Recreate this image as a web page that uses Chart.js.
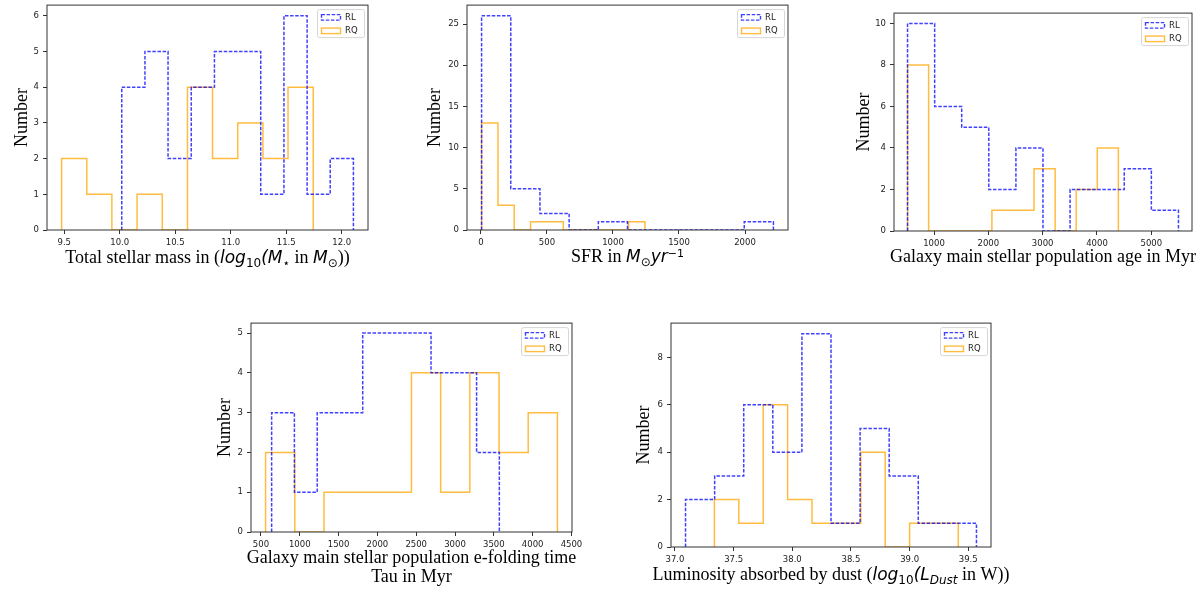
<!DOCTYPE html>
<html>
<head>
<meta charset="utf-8">
<script src="https://cdn.jsdelivr.net/npm/chart.js@4.4.1/dist/chart.umd.min.js"></script>
<style>
html, body { margin: 0; padding: 0; background: #fff; overflow: hidden; width: 1200px; height: 601px; }
.panel { position: absolute; }
</style>
</head>
<body>
<div class="panel" id="p1"><canvas id="c1"></canvas></div>
<div class="panel" id="p2"><canvas id="c2"></canvas></div>
<div class="panel" id="p3"><canvas id="c3"></canvas></div>
<div class="panel" id="p4"><canvas id="c4"></canvas></div>
<div class="panel" id="p5"><canvas id="c5"></canvas></div>
<script>
// total stellar mass
const massEdgesRL = [10.018, 10.227, 10.435, 10.644, 10.853, 11.062, 11.270, 11.479, 11.688, 11.896, 12.105];
const massCountsRL = [4, 5, 2, 4, 5, 5, 1, 6, 1, 2];
const massEdgesRQ = [9.476, 9.703, 9.929, 10.156, 10.383, 10.610, 10.836, 11.063, 11.290, 11.516, 11.743];
const massCountsRQ = [2, 1, 0, 1, 0, 4, 2, 3, 2, 4];
const massTicksX = [9.5, 10.0, 10.5, 11.0, 11.5, 12.0];
const massTicksY = [0, 1, 2, 3, 4, 5, 6];

// SFR
const sfrEdgesRL = [5, 226, 447, 668, 889, 1110, 1331, 1552, 1773, 1994, 2215];
const sfrCountsRL = [26, 5, 2, 0, 1, 0, 0, 0, 0, 1];
const sfrEdgesRQ = [5, 129, 252, 376, 500, 624, 747, 871, 995, 1118, 1242];
const sfrCountsRQ = [13, 3, 0, 1, 1, 0, 0, 0, 0, 1];
const sfrTicksX = [0, 500, 1000, 1500, 2000];
const sfrTicksY = [0, 5, 10, 15, 20, 25];

// stellar population age
const ageEdgesRL = [513, 1012, 1510, 2009, 2508, 3006, 3505, 4004, 4502, 5001, 5500];
const ageCountsRL = [10, 6, 5, 2, 4, 0, 2, 2, 3, 1];
const ageEdgesRQ = [513, 901, 1289, 1677, 2066, 2454, 2842, 3230, 3618, 4006, 4394];
const ageCountsRQ = [8, 0, 0, 0, 1, 1, 3, 0, 2, 4];
const ageTicksX = [1000, 2000, 3000, 4000, 5000];
const ageTicksY = [0, 2, 4, 6, 8, 10];

// e-folding time tau
const tauEdgesRL = [638, 931, 1225, 1518, 1811, 2105, 2398, 2691, 2985, 3278, 3571];
const tauCountsRL = [3, 1, 3, 3, 5, 5, 5, 4, 4, 2];
const tauEdgesRQ = [560, 936, 1312, 1687, 2063, 2439, 2815, 3191, 3567, 3943, 4319];
const tauCountsRQ = [2, 0, 1, 1, 1, 4, 1, 4, 2, 3];
const tauTicksX = [500, 1000, 1500, 2000, 2500, 3000, 3500, 4000, 4500];
const tauTicksY = [0, 1, 2, 3, 4, 5];

// dust luminosity
const dustEdgesRL = [37.090, 37.338, 37.586, 37.834, 38.082, 38.330, 38.578, 38.826, 39.074, 39.322, 39.570];
const dustCountsRL = [2, 3, 6, 4, 9, 1, 5, 3, 1, 1];
const dustEdgesRQ = [37.336, 37.544, 37.752, 37.960, 38.168, 38.376, 38.584, 38.792, 39.000, 39.208, 39.415];
const dustCountsRQ = [2, 1, 6, 2, 1, 1, 4, 0, 1, 1];
const dustTicksX = [37.0, 37.5, 38.0, 38.5, 39.0, 39.5];
const dustTicksY = [0, 2, 4, 6, 8];

const seriesNames = ['RL', 'RQ'];

// axis labels, split into plain and math pieces
const massLabel = [[['Total stellar mass in (', 'r'], ['log', 'm'], ['10', 'sub'], ['(M', 'm'], ['\u22C6', 'sub'], [' in ', 'r'], ['M', 'm'], ['\u2299', 'sub'], ['))', 'r']]];
const sfrLabel = [[['SFR in ', 'r'], ['M', 'm'], ['\u2299', 'sub'], ['yr', 'm'], ['\u22121', 'sup']]];
const ageLabel = [[['Galaxy main stellar population age in Myr', 'r']]];
const tauLabel = [[['Galaxy main stellar population e-folding time', 'r']], [['Tau in Myr', 'r']]];
const dustLabel = [[['Luminosity absorbed by dust (', 'r'], ['log', 'm'], ['10', 'sub'], ['(L', 'm'], ['Dust', 'subi'], [' in W))', 'r']]];

const BLUE = 'rgba(0, 0, 255, 0.75)';
const ORANGE = 'rgba(255, 165, 0, 0.75)';
const SERIF = '"Liberation Serif", "Times New Roman", serif';
const SANS = '"DejaVu Sans", sans-serif';

const segFonts = {
    r: { font: '18px ' + SERIF, dy: 0 },
    m: { font: 'italic 17px ' + SANS, dy: 0 },
    sub: { font: '12px ' + SANS, dy: 4 },
    subi: { font: 'italic 12px ' + SANS, dy: 4 },
    sup: { font: '11px ' + SANS, dy: -5 }
};

const Y_W = 50, PAD_R = 40, PAD_T = 8, X_H = 70;

const panels = [
    { id: 1, box: [47, 4, 368, 230], ylabX: 22, baselines: [263], label: massLabel, dec: 1,
      rl: [massEdgesRL, massCountsRL], rq: [massEdgesRQ, massCountsRQ], tx: massTicksX, ty: massTicksY },
    { id: 2, box: [467, 4, 788, 230], ylabX: 435, baselines: [262], label: sfrLabel, dec: 0,
      rl: [sfrEdgesRL, sfrCountsRL], rq: [sfrEdgesRQ, sfrCountsRQ], tx: sfrTicksX, ty: sfrTicksY },
    { id: 3, box: [894, 12, 1192, 231], ylabX: 864, baselines: [262], label: ageLabel, dec: 0,
      rl: [ageEdgesRL, ageCountsRL], rq: [ageEdgesRQ, ageCountsRQ], tx: ageTicksX, ty: ageTicksY },
    { id: 4, box: [251, 322, 572, 532], ylabX: 225, baselines: [563, 582], label: tauLabel, dec: 0,
      rl: [tauEdgesRL, tauCountsRL], rq: [tauEdgesRQ, tauCountsRQ], tx: tauTicksX, ty: tauTicksY },
    { id: 5, box: [671, 322, 991, 547], ylabX: 644, baselines: [580], label: dustLabel, dec: 1,
      rl: [dustEdgesRL, dustCountsRL], rq: [dustEdgesRQ, dustCountsRQ], tx: dustTicksX, ty: dustTicksY }
];

// outline of a step histogram, like histtype='step'
function stepPoints(edges, counts) {
    const pts = [{ x: edges[0], y: 0 }];
    counts.forEach((c, i) => {
        pts.push({ x: edges[i], y: c });
        pts.push({ x: edges[i + 1], y: c });
    });
    pts.push({ x: edges[edges.length - 1], y: 0 });
    return pts;
}

const framePlugin = {
    id: 'frame',
    afterDraw(chart) {
        const { ctx, chartArea: a } = chart;
        const p = chart.options.plugins.frame;
        ctx.save();
        ctx.strokeStyle = '#333';
        ctx.lineWidth = 1;
        ctx.strokeRect(a.left, a.top, a.right - a.left, a.bottom - a.top);

        // legend box, top right inside the axes
        const bw = 47, bh = 28;
        const bx = a.right - 4 - bw, by = a.top + 4;
        ctx.fillStyle = 'rgba(255,255,255,0.85)';
        ctx.strokeStyle = '#d6d6d6';
        ctx.beginPath();
        ctx.roundRect(bx + 0.5, by + 0.5, bw, bh, 2);
        ctx.fill();
        ctx.stroke();
        chart.data.datasets.forEach((ds, i) => {
            const cy = by + 8 + i * 13.5;
            ctx.strokeStyle = ds.borderColor;
            ctx.lineWidth = 1.4;
            ctx.setLineDash(ds.borderDash || []);
            ctx.strokeRect(bx + 4.5, cy - 2.5, 19, 5.5);
            ctx.setLineDash([]);
            ctx.fillStyle = '#222';
            ctx.font = '8.5px ' + SANS;
            ctx.textBaseline = 'middle';
            ctx.textAlign = 'left';
            ctx.fillText(ds.label, bx + 28, cy + 0.5);
        });

        // x axis label with math pieces
        const cx = (a.left + a.right) / 2;
        p.label.forEach((line, li) => {
            const parts = line.map(([t, kind]) => {
                ctx.font = segFonts[kind].font;
                return { t, f: segFonts[kind], w: ctx.measureText(t).width };
            });
            const total = parts.reduce((s, q) => s + q.w, 0);
            let x = cx - total / 2;
            const y = p.baselines[li] - p.top;
            ctx.fillStyle = '#000';
            ctx.textBaseline = 'alphabetic';
            ctx.textAlign = 'left';
            parts.forEach(q => {
                ctx.font = q.f.font;
                ctx.fillText(q.t, x, y + q.f.dy);
                x += q.w;
            });
        });
        ctx.restore();
    }
};

panels.forEach(p => {
    const [L, T, R, B] = p.box;
    const left = L - Y_W, top = T - PAD_T;
    const w = (R - L) + Y_W + PAD_R, h = (B - T) + PAD_T + X_H;
    const div = document.getElementById('p' + p.id);
    Object.assign(div.style, { left: left + 'px', top: top + 'px', width: w + 'px', height: h + 'px' });

    const allEdges = p.rl[0].concat(p.rq[0]);
    const lo = Math.min(...allEdges), hi = Math.max(...allEdges);
    const margin = (hi - lo) * 0.05;
    const yMax = Math.max(...p.rl[1], ...p.rq[1]) * 1.05;

    new Chart(document.getElementById('c' + p.id), {
        type: 'line',
        data: {
            datasets: [
                { label: seriesNames[0], data: stepPoints(p.rl[0], p.rl[1]), borderColor: BLUE, borderWidth: 1.5,
                  borderDash: [3.5, 1.6], pointRadius: 0, fill: false, tension: 0 },
                { label: seriesNames[1], data: stepPoints(p.rq[0], p.rq[1]), borderColor: ORANGE, borderWidth: 1.5,
                  pointRadius: 0, fill: false, tension: 0 }
            ]
        },
        options: {
            responsive: true,
            maintainAspectRatio: false,
            animation: false,
            events: [],
            layout: { padding: { top: PAD_T, right: PAD_R, left: 0, bottom: 0 } },
            plugins: {
                legend: { display: false },
                tooltip: { enabled: false },
                frame: { label: p.label, baselines: p.baselines, top: top }
            },
            scales: {
                x: {
                    type: 'linear',
                    min: lo - margin,
                    max: hi + margin,
                    afterBuildTicks: s => { s.ticks = p.tx.map(v => ({ value: v })); },
                    afterFit: s => { s.height = X_H; },
                    grid: { drawOnChartArea: false, drawTicks: true, tickLength: 4, tickColor: '#333' },
                    border: { display: false },
                    ticks: { font: { family: SANS, size: 8.5 }, color: '#222', padding: 4, maxRotation: 0,
                             callback: v => v.toFixed(p.dec) }
                },
                y: {
                    min: 0,
                    max: yMax,
                    afterBuildTicks: s => { s.ticks = p.ty.map(v => ({ value: v })); },
                    afterFit: s => { s.width = Y_W; },
                    grid: { drawOnChartArea: false, drawTicks: true, tickLength: 4, tickColor: '#333' },
                    border: { display: false },
                    ticks: { font: { family: SANS, size: 8.5 }, color: '#222', padding: 4,
                             callback: v => String(v) },
                    title: { display: true, text: 'Number', color: '#000',
                             font: { family: SERIF, size: 18, lineHeight: 1.2 },
                             padding: { top: p.ylabX - left - 10.8, bottom: 0 } }
                }
            }
        },
        plugins: [framePlugin]
    });
});
</script>
</body>
</html>
